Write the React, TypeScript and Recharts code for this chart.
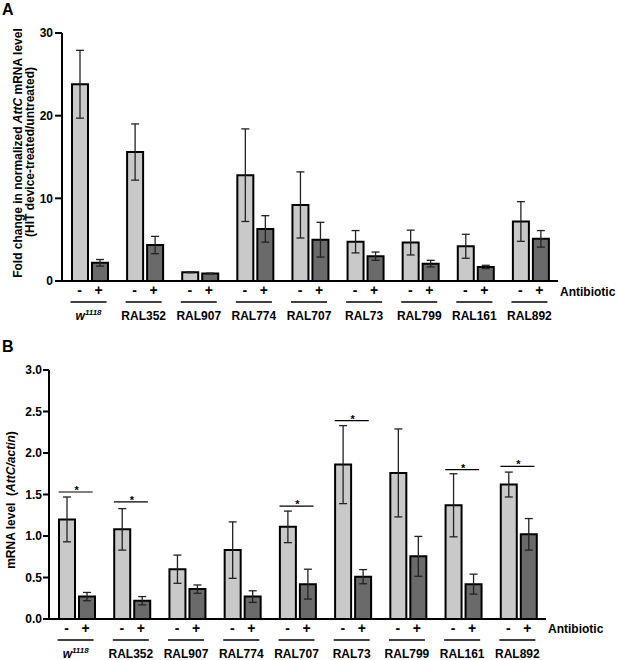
import React from "react";
import {
  Bar,
  ComposedChart,
  ErrorBar,
  Scatter,
  XAxis,
  YAxis,
} from "recharts";

const groups = [
  "w1118",
  "RAL352",
  "RAL907",
  "RAL774",
  "RAL707",
  "RAL73",
  "RAL799",
  "RAL161",
  "RAL892",
];

// panel A: fold change (HIT device-treated / untreated)
const foldMinus = [23.8, 15.6, 1.05, 12.8, 9.2, 4.75, 4.65, 4.2, 7.2];
const foldMinusErr = [4.1, 3.4, 0.05, 5.6, 4.0, 1.35, 1.5, 1.45, 2.4];
const foldPlus = [2.2, 4.35, 0.9, 6.3, 5.0, 3.0, 2.1, 1.7, 5.1];
const foldPlusErr = [0.4, 1.05, 0.05, 1.6, 2.1, 0.5, 0.4, 0.2, 1.0];
const foldTicks = [0, 10, 20, 30];

// panel B: AttC / actin
const mrnaMinus = [1.2, 1.08, 0.6, 0.83, 1.11, 1.86, 1.76, 1.37, 1.62];
const mrnaMinusErr = [0.27, 0.25, 0.17, 0.34, 0.19, 0.47, 0.53, 0.38, 0.15];
const mrnaPlus = [0.27, 0.22, 0.36, 0.27, 0.42, 0.51, 0.755, 0.42, 1.02];
const mrnaPlusErr = [0.05, 0.05, 0.05, 0.07, 0.18, 0.085, 0.24, 0.12, 0.19];
const mrnaStar = [1.53, 1.41, null, null, 1.36, 2.39, null, 1.8, 1.84];
const mrnaTicks = [0, 0.5, 1, 1.5, 2, 2.5, 3];

const FONT = "'Liberation Sans', Arial, Helvetica, sans-serif";
const LIGHT = "#c9c9c9";
const DARK = "#6a6a6a";

const dataA = groups.map((g, i) => ({
  group: g,
  minus: foldMinus[i],
  minusErr: foldMinusErr[i],
  plus: foldPlus[i],
  plusErr: foldPlusErr[i],
}));

const dataB = groups.map((g, i) => ({
  group: g,
  minus: mrnaMinus[i],
  minusErr: mrnaMinusErr[i],
  plus: mrnaPlus[i],
  plusErr: mrnaPlusErr[i],
  star: mrnaStar[i],
}));

function GroupTick(props: any) {
  const { x, y, payload } = props;
  const name: string = payload.value;
  return (
    <g fontFamily={FONT} fontWeight="bold" fill="#000">
      <text x={x - 10} y={y + 13.5} textAnchor="middle" fontSize={14}>
        -
      </text>
      <text x={x + 9} y={y + 13.5} textAnchor="middle" fontSize={14}>
        +
      </text>
      <line x1={x - 19} x2={x + 17} y1={y + 21} y2={y + 21} stroke="#000" strokeWidth={1.5} />
      <text x={x - 1} y={y + 38.5} textAnchor="middle" fontSize={12}>
        {name === "w1118" ? (
          <>
            <tspan fontStyle="italic">w</tspan>
            <tspan fontStyle="italic" fontSize={8} dy={-5}>
              1118
            </tspan>
          </>
        ) : (
          name
        )}
      </text>
    </g>
  );
}

function StarBracket(props: any) {
  const { cx, cy, payload } = props;
  if (payload == null || payload.star == null || cy == null || isNaN(cy)) return <g />;
  return (
    <g>
      <line x1={cx - 18} x2={cx + 16} y1={cy} y2={cy} stroke="#000" strokeWidth={1.2} />
      <text x={cx} y={cy + 2} textAnchor="middle" fontFamily={FONT} fontSize={11} fontWeight="bold">
        *
      </text>
    </g>
  );
}

const tickStyle = { fontFamily: FONT, fontSize: 12, fontWeight: "bold", fill: "#000" };

export default function App() {
  return (
    <div style={{ position: "absolute", left: 0, top: 0, width: 617, height: 660, background: "#fff" }}>
      <ComposedChart
        width={617}
        height={330}
        data={dataA}
        margin={{ top: 33, right: 59, bottom: 0, left: 2 }}
        barSize={16}
        barGap={4}
      >
        <XAxis
          dataKey="group"
          interval={0}
          height={49}
          tickSize={0}
          tickMargin={0}
          tickLine={false}
          axisLine={{ stroke: "#000", strokeWidth: 2 }}
          tick={<GroupTick />}
        />
        <YAxis
          width={60}
          domain={[0, 30]}
          ticks={foldTicks}
          interval={0}
          tickSize={7}
          tickMargin={2}
          tick={tickStyle}
          axisLine={{ stroke: "#000", strokeWidth: 2 }}
          tickLine={{ stroke: "#000", strokeWidth: 2 }}
          label={{
            content: () => (
              <g fontFamily={FONT} fontWeight="bold" fontSize={12} fill="#000">
                <text transform="translate(22,153) rotate(-90)" textAnchor="middle">
                  Fold change in normalized <tspan fontStyle="italic">AttC</tspan> mRNA level
                </text>
                <text transform="translate(34,152) rotate(-90)" textAnchor="middle">
                  (HIT device-treated/untreated)
                </text>
              </g>
            ),
          }}
        />
        <Bar dataKey="minus" fill={LIGHT} stroke="#000" strokeWidth={2} isAnimationActive={false}>
          <ErrorBar dataKey="minusErr" width={4} stroke="#222" strokeWidth={1.3} isAnimationActive={false} />
        </Bar>
        <Bar dataKey="plus" fill={DARK} stroke="#000" strokeWidth={2} isAnimationActive={false}>
          <ErrorBar dataKey="plusErr" width={4} stroke="#222" strokeWidth={1.3} isAnimationActive={false} />
        </Bar>
      </ComposedChart>

      <ComposedChart
        width={617}
        height={330}
        data={dataB}
        margin={{ top: 40, right: 71, bottom: 0, left: 2 }}
        barSize={16}
        barGap={4}
      >
        <XAxis
          dataKey="group"
          interval={0}
          height={41}
          tickSize={0}
          tickMargin={0}
          tickLine={false}
          axisLine={{ stroke: "#000", strokeWidth: 2 }}
          tick={<GroupTick />}
        />
        <YAxis
          width={47}
          domain={[0, 3]}
          ticks={mrnaTicks}
          interval={0}
          tickSize={6}
          tickMargin={1}
          tick={tickStyle}
          tickFormatter={(v: number) => v.toFixed(1)}
          axisLine={{ stroke: "#000", strokeWidth: 2 }}
          tickLine={{ stroke: "#000", strokeWidth: 2 }}
          label={{
            content: () => (
              <text
                transform="translate(15,170) rotate(-90)"
                textAnchor="middle"
                fontFamily={FONT}
                fontWeight="bold"
                fontSize={12}
                fill="#000"
              >
                mRNA level {"\u00a0"}(<tspan fontStyle="italic">AttC/actin</tspan>)
              </text>
            ),
          }}
        />
        <Bar dataKey="minus" fill={LIGHT} stroke="#000" strokeWidth={2} isAnimationActive={false}>
          <ErrorBar dataKey="minusErr" width={4} stroke="#222" strokeWidth={1.3} isAnimationActive={false} />
        </Bar>
        <Bar dataKey="plus" fill={DARK} stroke="#000" strokeWidth={2} isAnimationActive={false}>
          <ErrorBar dataKey="plusErr" width={4} stroke="#222" strokeWidth={1.3} isAnimationActive={false} />
        </Bar>
        <Scatter dataKey="star" shape={<StarBracket />} isAnimationActive={false} />
      </ComposedChart>

      <svg
        width={617}
        height={660}
        style={{ position: "absolute", left: 0, top: 0, pointerEvents: "none" }}
      >
        <g fontFamily={FONT} fontWeight="bold" fill="#000">
          <text x={2} y={15} fontSize={16}>
            A
          </text>
          <text x={2} y={352} fontSize={16}>
            B
          </text>
          <text x={560} y={296} fontSize={12}>
            Antibiotic
          </text>
          <text x={548} y={633} fontSize={12}>
            Antibiotic
          </text>
        </g>
      </svg>
    </div>
  );
}
